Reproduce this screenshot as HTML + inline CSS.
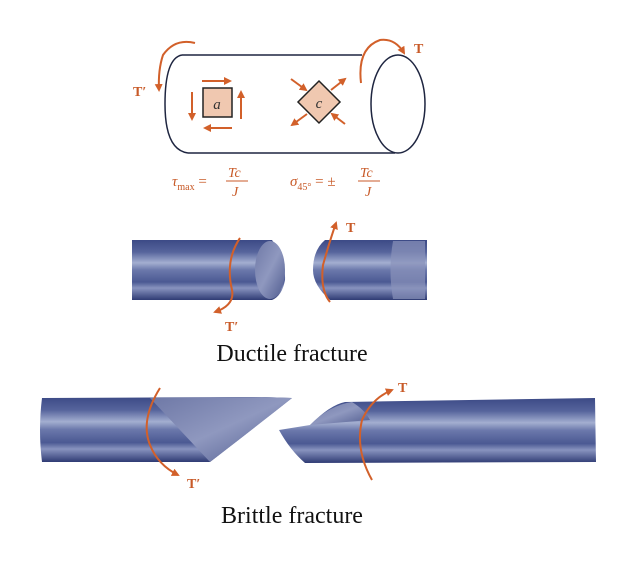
<!DOCTYPE html>
<html><head><meta charset="utf-8"><style>
html,body{margin:0;padding:0;background:#fff;}
svg{display:block;}
</style></head><body>
<svg width="623" height="562" viewBox="0 0 623 562" xmlns="http://www.w3.org/2000/svg">
<defs>
<linearGradient id="bar" x1="0" y1="0" x2="0" y2="1">
<stop offset="0" stop-color="#3c4a86"/>
<stop offset="0.2" stop-color="#56649c"/>
<stop offset="0.38" stop-color="#a3aed0"/>
<stop offset="0.5" stop-color="#6b78ab"/>
<stop offset="0.7" stop-color="#4b5993"/>
<stop offset="0.8" stop-color="#8893bf"/>
<stop offset="1" stop-color="#2f3b74"/>
</linearGradient>
<linearGradient id="frac" x1="0" y1="0" x2="1" y2="1">
<stop offset="0" stop-color="#6e78a6"/>
<stop offset="0.5" stop-color="#8f98bf"/>
<stop offset="1" stop-color="#4e5a8e"/>
</linearGradient>
<marker id="ah" markerWidth="8" markerHeight="8" refX="6" refY="4" orient="auto" markerUnits="userSpaceOnUse">
<path d="M0,0 L8,4 L0,8 Z" fill="#d2602a"/>
</marker>
</defs>
<g fill="none" stroke="#1e2540" stroke-width="1.5">
<path d="M182,55 L362,55"/>
<path d="M188,153 L395,153"/>
<path d="M182,55 Q165,58 165,104 Q165,150 188,153"/>
<ellipse cx="398" cy="104" rx="27" ry="49"/>
</g>
<rect x="203" y="88" width="29" height="29" fill="#f0c8b0" stroke="#222" stroke-width="1.5"/>
<text x="217" y="109" font-family="Liberation Serif,serif" font-style="italic" font-size="15" text-anchor="middle" fill="#333">a</text>
<polygon points="319,81 340,102 319,123 298,102" fill="#f0c8b0" stroke="#222" stroke-width="1.5"/>
<text x="319" y="108" font-family="Liberation Serif,serif" font-style="italic" font-size="15" text-anchor="middle" fill="#333">c</text>
<g stroke="#d2602a" stroke-width="2" fill="none" marker-end="url(#ah)">
<path d="M202,81 L230,81"/>
<path d="M232,128 L205,128"/>
<path d="M192,92 L192,119"/>
<path d="M241,119 L241,92"/>
<path d="M291,79 L306,90"/>
<path d="M345,124 L332,114"/>
<path d="M331,90 L345,79"/>
<path d="M307,114 L292,125"/>
<path d="M195,43 Q175,38 163,55 Q158,70 159,90"/>
<path d="M361,83 Q357,48 380,40 Q395,38 404,53"/>
</g>
<g font-family="Liberation Serif,serif" font-weight="bold" fill="#c85a28" font-size="14">
<text x="133" y="96">T′</text>
<text x="414" y="53">T</text>
</g>
<g font-family="Liberation Serif,serif" fill="#c85a28" font-size="15" font-style="italic">
<text x="172" y="186">τ<tspan font-size="10" font-style="normal" dy="4">max</tspan><tspan dy="-4" font-style="normal"> = </tspan></text>
<text x="228" y="177" font-size="14">Tc</text>
<line x1="226" y1="181" x2="248" y2="181" stroke="#c85a28" stroke-width="1"/>
<text x="232" y="196" font-size="14">J</text>
<text x="290" y="186">σ<tspan font-size="10" font-style="normal" dy="4">45°</tspan><tspan dy="-4" font-style="normal"> = ± </tspan></text>
<text x="360" y="177" font-size="14">Tc</text>
<line x1="358" y1="181" x2="380" y2="181" stroke="#c85a28" stroke-width="1"/>
<text x="365" y="196" font-size="14">J</text>
</g>
<path d="M132,240 L272,240 Q286,260 285,280 Q282,296 272,300 L132,300 Z" fill="url(#bar)"/>
<ellipse cx="270" cy="270" rx="15" ry="29" fill="url(#frac)"/>
<path d="M325,240 L427,240 L427,300 L330,300 Q313,285 313,270 Q313,250 325,240 Z" fill="url(#bar)"/>
<path d="M393,241 L425,241 L425,299 L393,299 Q388,270 393,241 Z" fill="#8a93bb" opacity="0.7"/>
<g stroke="#d2602a" stroke-width="2" fill="none" marker-end="url(#ah)">
<path d="M240,238 Q225,260 232,290 Q235,305 215,312"/>
<path d="M330,302 Q320,290 323,265 Q330,240 336,223"/>
</g>
<g font-family="Liberation Serif,serif" font-weight="bold" fill="#c85a28" font-size="14">
<text x="225" y="331">T′</text>
<text x="346" y="232">T</text>
</g>
<text x="292" y="361" font-family="Liberation Serif,serif" font-size="24" text-anchor="middle" fill="#111">Ductile fracture</text>
<path d="M42,398 L262,397 L292,398 Q258,425 210,462 L42,462 Q38,430 42,398 Z" fill="url(#bar)"/>
<path d="M150,398 L262,397 L292,398 Q258,425 210,462 Q180,430 150,398 Z" fill="url(#frac)"/>
<path d="M345,402 L595,398 L596,462 L305,463 Q290,450 279,430 L310,425 Q330,405 345,402 Z" fill="url(#bar)"/>
<path d="M310,425 Q330,405 352,402 Q365,410 370,420 Z" fill="url(#frac)"/>
<g stroke="#d2602a" stroke-width="2" fill="none" marker-end="url(#ah)">
<path d="M160,388 Q140,420 150,445 Q158,465 178,475"/>
<path d="M372,480 Q355,450 362,420 Q372,398 392,390"/>
</g>
<g font-family="Liberation Serif,serif" font-weight="bold" fill="#c85a28" font-size="14">
<text x="187" y="488">T′</text>
<text x="398" y="392">T</text>
</g>
<text x="292" y="523" font-family="Liberation Serif,serif" font-size="24" text-anchor="middle" fill="#111">Brittle fracture</text>
</svg>
</body></html>
